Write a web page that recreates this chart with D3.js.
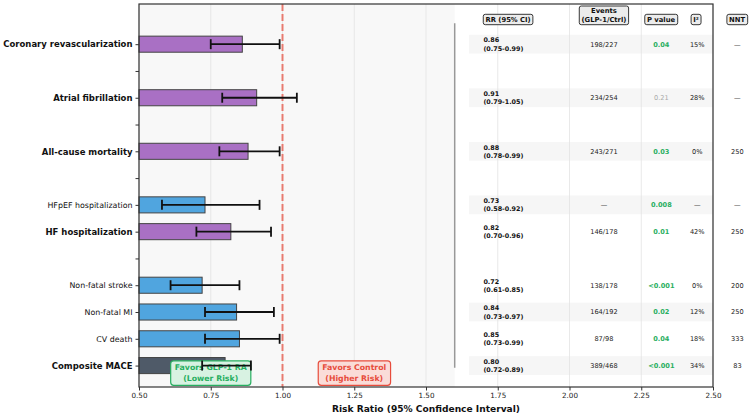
<!DOCTYPE html>
<html>
<head>
<meta charset="utf-8">
<script src="https://d3js.org/d3.v7.min.js"></script>
<style>
  body { margin: 0; background: #fff; }
  text { font-family: "DejaVu Sans", sans-serif; }
</style>
</head>
<body>
<svg width="750" height="419" class="forest"></svg>
<script>
  // rows top to bottom, "" = spacer row
  const outcomes = ["Coronary revascularization", "", "Atrial fibrillation", "", "All-cause mortality", "",
    "HFpEF hospitalization", "HF hospitalization", "", "Non-fatal stroke", "Non-fatal MI", "CV death", "Composite MACE"];
  const kinds = ["primary", null, "primary", null, "primary", null,
    "sub", "primary", null, "sub", "sub", "sub", "mace"];
  const rr = [0.86, null, 0.91, null, 0.88, null, 0.73, 0.82, null, 0.72, 0.84, 0.85, 0.80];
  const ciLow = [0.75, null, 0.79, null, 0.78, null, 0.58, 0.70, null, 0.61, 0.73, 0.73, 0.72];
  const ciHigh = [0.99, null, 1.05, null, 0.99, null, 0.92, 0.96, null, 0.85, 0.97, 0.99, 0.89];
  const events = ["198/227", null, "234/254", null, "243/271", null, "—", "146/178", null, "138/178", "164/192", "87/98", "389/468"];
  const pValues = ["0.04", null, "0.21", null, "0.03", null, "0.008", "0.01", null, "<0.001", "0.02", "0.04", "<0.001"];
  const significant = [true, null, false, null, true, null, true, true, null, true, true, true, true];
  const i2 = ["15%", null, "28%", null, "0%", null, "—", "42%", null, "0%", "12%", "18%", "34%"];
  const nnt = ["—", null, "—", null, "250", null, "—", "250", null, "200", "250", "333", "83"];
  const xTicks = [0.5, 0.75, 1.0, 1.25, 1.5, 1.75, 2.0, 2.25, 2.5];

  const colors = {primary: "#a970c4", sub: "#50a5df", mace: "#4f5a68"};
  const green = "#27ae60", red = "#e74c3c";

  const svg = d3.select(".forest");
  const plotLeft = 139, plotRight = 713, plotTop = 4, plotBottom = 387;
  const n = outcomes.length;

  const x = d3.scaleLinear().domain([0.5, 2.5]).range([plotLeft, plotRight]);
  const y = d3.scaleLinear().domain([-0.8, 13.5]).range([plotBottom, plotTop]);
  const pos = i => n - 1 - i;

  const rows = outcomes.map((name, i) => ({
    name, i, p: pos(i), kind: kinds[i], rr: rr[i], lo: ciLow[i], hi: ciHigh[i],
    events: events[i], pval: pValues[i], sig: significant[i], i2: i2[i], nnt: nnt[i]
  }));
  const data = rows.filter(d => d.rr != null);

  // background
  svg.append("rect")
    .attr("x", plotLeft).attr("y", plotTop)
    .attr("width", plotRight - plotLeft).attr("height", plotBottom - plotTop)
    .attr("fill", "#fff");
  svg.append("rect")
    .attr("x", x(0.5)).attr("y", plotTop)
    .attr("width", x(1.6) - x(0.5)).attr("height", plotBottom - plotTop)
    .attr("fill", "#f8f8f8");

  // table row stripes
  svg.selectAll(".stripe")
    .data(data.filter(d => d.p % 2 === 0))
    .enter().append("rect")
    .attr("class", "stripe")
    .attr("x", x(1.65))
    .attr("y", d => y(d.p + 0.35))
    .attr("width", x(2.5) - x(1.65))
    .attr("height", d => y(d.p - 0.35) - y(d.p + 0.35))
    .attr("fill", "#f6f6f6");

  // grid
  svg.selectAll(".grid")
    .data(xTicks)
    .enter().append("line")
    .attr("x1", d => x(d)).attr("x2", d => x(d))
    .attr("y1", plotTop).attr("y2", plotBottom)
    .attr("stroke", "#e3e3e3").attr("stroke-width", 0.8);

  // reference line
  svg.append("line")
    .attr("x1", x(1)).attr("x2", x(1))
    .attr("y1", plotTop).attr("y2", plotBottom)
    .attr("stroke", red).attr("stroke-opacity", 0.7)
    .attr("stroke-width", 2).attr("stroke-dasharray", "7,3");

  // bars
  svg.selectAll(".bar")
    .data(data)
    .enter().append("rect")
    .attr("class", "bar")
    .attr("x", x(0.5))
    .attr("y", d => y(d.p + 0.3))
    .attr("width", d => x(d.rr) - x(0.5))
    .attr("height", d => y(d.p - 0.3) - y(d.p + 0.3))
    .attr("fill", d => colors[d.kind])
    .attr("stroke", "#444").attr("stroke-width", 1);

  // favour annotations
  function noteBox(cx, cy, lines, col, fill) {
    const g = svg.append("g");
    const rect = g.append("rect");
    const t = g.append("text")
      .attr("text-anchor", "middle")
      .attr("font-size", 7.8).attr("font-weight", "bold")
      .attr("fill", col);
    lines.forEach((l, k) => {
      t.append("tspan").attr("x", cx).attr("y", cy + (k - (lines.length - 1) / 2) * 10.5 + 2.8).text(l);
    });
    const bb = t.node().getBBox();
    rect.attr("x", bb.x - 4).attr("y", bb.y - 2.5)
      .attr("width", bb.width + 8).attr("height", bb.height + 5)
      .attr("rx", 3).attr("fill", fill).attr("stroke", col).attr("stroke-width", 1.2);
  }
  noteBox(x(0.75), y(-0.27), ["Favors GLP-1 RA", "(Lower Risk)"], green, "#d8f2e2");
  noteBox(x(1.25), y(-0.27), ["Favors Control", "(Higher Risk)"], red, "#fadcd8");

  // error bars
  const eb = svg.selectAll(".err").data(data).enter().append("g");
  eb.append("line")
    .attr("x1", d => x(d.lo)).attr("x2", d => x(d.hi))
    .attr("y1", d => y(d.p)).attr("y2", d => y(d.p));
  eb.append("line")
    .attr("x1", d => x(d.lo)).attr("x2", d => x(d.lo))
    .attr("y1", d => y(d.p) - 5).attr("y2", d => y(d.p) + 5);
  eb.append("line")
    .attr("x1", d => x(d.hi)).attr("x2", d => x(d.hi))
    .attr("y1", d => y(d.p) - 5).attr("y2", d => y(d.p) + 5);
  eb.selectAll("line").attr("stroke", "#111").attr("stroke-width", 1.8);

  // separator
  const ph = plotBottom - plotTop;
  svg.append("line")
    .attr("x1", x(1.6)).attr("x2", x(1.6))
    .attr("y1", plotBottom - 0.05 * ph).attr("y2", plotBottom - 0.95 * ph)
    .attr("stroke", "#999").attr("stroke-width", 1.5);

  // table values
  const rrText = svg.selectAll(".rr").data(data).enter().append("text")
    .attr("font-size", 6.4).attr("font-weight", "bold").attr("fill", "#111");
  rrText.append("tspan").attr("x", x(1.7)).attr("y", d => y(d.p) - 1.7).text(d => d.rr.toFixed(2));
  rrText.append("tspan").attr("x", x(1.7)).attr("y", d => y(d.p) + 6.6)
    .text(d => "(" + d.lo.toFixed(2) + "-" + d.hi.toFixed(2) + ")");

  function column(cx, key, styleFn) {
    svg.selectAll(".col-" + key).data(data).enter().append("text")
      .attr("x", x(cx)).attr("y", d => y(d.p) + 2.4)
      .attr("text-anchor", "middle").attr("font-size", 6.6).attr("fill", "#222")
      .text(d => d[key])
      .each(function(d) { if (styleFn) styleFn(d3.select(this), d); });
  }
  column(2.12, "events");
  column(2.32, "pval", (s, d) => s.attr("fill", d.sig ? green : "#aaa").attr("font-weight", d.sig ? "bold" : "normal"));
  column(2.445, "i2");
  column(2.585, "nnt");

  // axes
  svg.append("g")
    .attr("transform", "translate(0," + plotBottom + ")")
    .call(d3.axisBottom(x).tickValues(xTicks).tickFormat(d3.format(".2f")).tickSize(3.5).tickPadding(2))
    .call(g => g.select(".domain").remove())
    .call(g => g.selectAll("line").attr("stroke", "#333"))
    .call(g => g.selectAll("text").attr("font-size", 7.2).attr("fill", "#222").attr("font-family", "DejaVu Sans"));

  svg.append("g")
    .attr("transform", "translate(" + plotLeft + ",0)")
    .call(d3.axisLeft(y).tickValues(rows.map(d => d.p)).tickFormat(p => outcomes[pos(p)]).tickSize(3.5).tickPadding(3))
    .call(g => g.select(".domain").remove())
    .call(g => g.selectAll("line").attr("stroke", "#333"))
    .call(g => g.selectAll("text")
      .attr("font-family", "DejaVu Sans").attr("fill", "#111")
      .attr("font-size", p => kinds[pos(p)] === "sub" ? 7.9 : 8.5)
      .attr("font-weight", p => kinds[pos(p)] === "sub" ? "normal" : "bold"));

  svg.append("rect")
    .attr("x", plotLeft).attr("y", plotTop)
    .attr("width", plotRight - plotLeft).attr("height", plotBottom - plotTop)
    .attr("fill", "none").attr("stroke", "#333").attr("stroke-width", 1.2);

  svg.append("text")
    .attr("x", (plotLeft + plotRight) / 2).attr("y", 411.5)
    .attr("text-anchor", "middle").attr("font-size", 9.1).attr("font-weight", "bold").attr("fill", "#111")
    .text("Risk Ratio (95% Confidence Interval)");

  // column headers
  const headers = [
    {x: 1.786, lines: ["RR (95% CI)"]},
    {x: 2.12, lines: ["Events", "(GLP-1/Ctrl)"]},
    {x: 2.319, lines: ["P value"]},
    {x: 2.441, lines: ["I²"]},
    {x: 2.584, lines: ["NNT"]}
  ];
  headers.forEach(h => {
    const g = svg.append("g");
    const rect = g.append("rect");
    const t = g.append("text").attr("text-anchor", "middle")
      .attr("font-size", 6.8).attr("font-weight", "bold").attr("fill", "#111");
    h.lines.forEach((l, k) => {
      t.append("tspan").attr("x", x(h.x)).attr("y", 21.5 - (h.lines.length - 1 - k) * 8.3).text(l);
    });
    const bb = t.node().getBBox();
    rect.attr("x", bb.x - 2.2).attr("y", bb.y - 1.2)
      .attr("width", bb.width + 4.4).attr("height", bb.height + 2.4)
      .attr("rx", 2).attr("fill", "#ececec").attr("stroke", "#222").attr("stroke-width", 0.9);
  });
</script>
</body>
</html>
